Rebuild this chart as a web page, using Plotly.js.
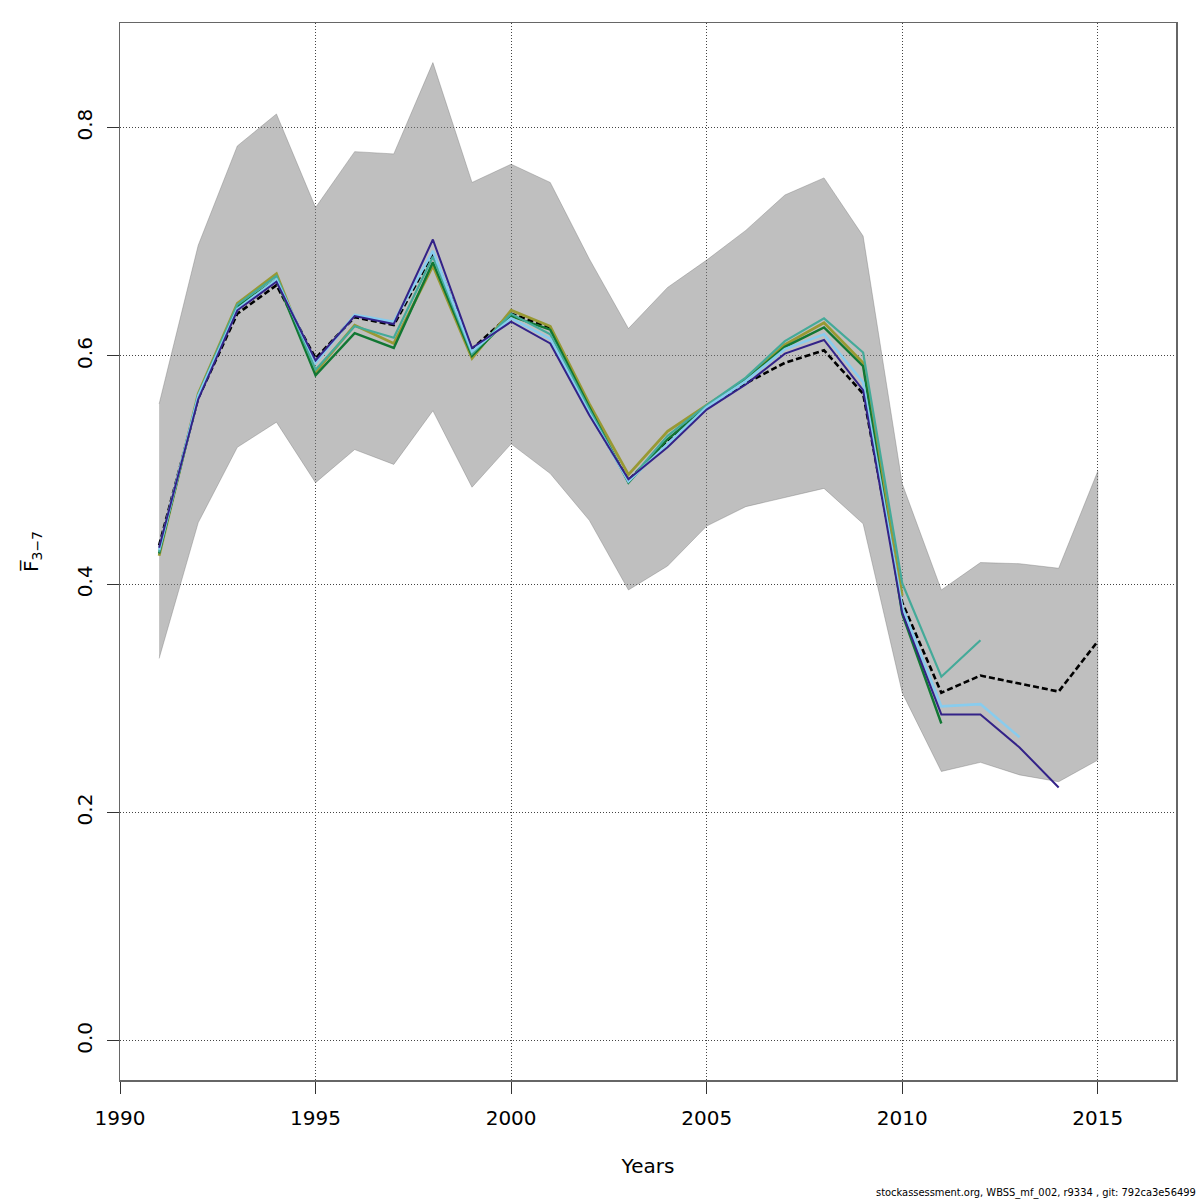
<!DOCTYPE html>
<html>
<head>
<meta charset="utf-8">
<script src="https://cdn.plot.ly/plotly-3.0.1.min.js"></script>
<style>html,body{margin:0;padding:0;background:#fff;}#chart{width:1200px;height:1200px;}</style>
</head>
<body>
<div id="chart"></div>
<script>
const years = [1991,1992,1993,1994,1995,1996,1997,1998,1999,2000,2001,2002,2003,2004,2005,2006,2007,2008,2009,2010,2011,2012,2013,2014,2015];
const upper = [0.558,0.697,0.784,0.812,0.730,0.779,0.777,0.857,0.752,0.768,0.752,0.685,0.624,0.660,0.684,0.710,0.741,0.756,0.705,0.488,0.395,0.419,0.418,0.414,0.499];
const lower = [0.335,0.454,0.520,0.542,0.489,0.518,0.505,0.552,0.485,0.523,0.497,0.456,0.395,0.416,0.451,0.468,0.476,0.484,0.453,0.305,0.236,0.244,0.233,0.227,0.246];
const estimate = [0.434,0.563,0.637,0.662,0.598,0.634,0.627,0.690,0.606,0.637,0.625,0.550,0.491,0.526,0.556,0.576,0.594,0.605,0.567,0.384,0.305,0.320,0.313,0.306,0.350];
const peel1 = [0.432,0.562,0.640,0.665,0.596,0.635,0.628,0.702,0.607,0.630,0.611,0.548,0.492,0.520,0.553,0.575,0.602,0.614,0.570,0.375,0.286,0.286,0.257,0.222];
const peel2 = [0.430,0.565,0.641,0.667,0.594,0.636,0.630,0.692,0.604,0.633,0.615,0.550,0.490,0.523,0.555,0.578,0.606,0.619,0.577,0.380,0.293,0.295,0.266];
const peel3 = [0.428,0.566,0.645,0.670,0.588,0.626,0.616,0.687,0.602,0.637,0.619,0.553,0.490,0.530,0.557,0.581,0.613,0.633,0.603,0.401,0.319,0.351];
const peel4 = [0.427,0.565,0.643,0.667,0.583,0.620,0.607,0.682,0.600,0.635,0.623,0.555,0.489,0.527,0.555,0.579,0.608,0.625,0.591,0.374,0.278];
const peel5 = [0.425,0.567,0.646,0.672,0.586,0.627,0.611,0.679,0.598,0.640,0.626,0.558,0.496,0.534,0.557,0.579,0.610,0.629,0.594,0.390];
const peelColors = ['#332288','#88CCEE','#44AA99','#117733','#999933'];
const xTicks = [1990,1995,2000,2005,2010,2015];
const yTicks = [0.0,0.2,0.4,0.6,0.8];

const bandX = years.concat(years.slice().reverse());
const bandY = upper.concat(lower.slice().reverse());

const traces = [];
traces.push({x: bandX, y: bandY, type:'scatter', mode:'lines', fill:'toself',
  fillcolor:'rgba(128,128,128,0.5)', line:{color:'rgba(110,110,110,0.6)', width:0.6},
  hoverinfo:'skip', showlegend:false});
traces.push({x: years, y: estimate, type:'scatter', mode:'lines',
  line:{color:'#000000', width:2.6, dash:'6px,3px'}, showlegend:false});
const peels = [peel1, peel2, peel3, peel4, peel5];
const peelWidths = [2, 2.6, 2.2, 2.4, 2.8];
for (let i = peels.length - 1; i >= 0; i--) {
  traces.push({x: years.slice(0, peels[i].length), y: peels[i], type:'scatter', mode:'lines',
    line:{color: peelColors[i], width: peelWidths[i]}, showlegend:false});
}

const tf = {family:'DejaVu Sans, sans-serif', size:20, color:'#000'};
const layout = {
  width:1200, height:1200,
  paper_bgcolor:'#fff', plot_bgcolor:'#fff',
  margin:{l:120, r:24, t:23, b:120, autoexpand:false},
  font: tf,
  showlegend:false,
  xaxis:{range:[1990,2017], tickvals:xTicks, ticktext:xTicks.map(String), ticks:'outside', ticklen:12,
    tickcolor:'#333', tickwidth:1, showline:true, linecolor:'#666', linewidth:1.5, mirror:true,
    showgrid:true, gridcolor:'#444', griddash:'1px,2px', gridwidth:1, zeroline:false,
    ticklabelstandoff:7, tickfont:tf,
    title:{text:'Years', font:tf, standoff:30}, automargin:false},
  yaxis:{range:[-0.0343,0.8917], tickvals:yTicks, ticktext:yTicks.map(v=>v.toFixed(1)), ticks:'outside', ticklen:12,
    tickcolor:'#333', tickwidth:1, showline:true, linecolor:'#666', linewidth:1.5, mirror:true,
    showgrid:true, gridcolor:'#444', griddash:'1px,2px', gridwidth:1, zeroline:false, tickangle:-90,
    ticklabelstandoff:7, tickfont:tf,
    title:{text:'F\u0305<sub>3\u22127</sub>', font:tf, standoff:28}, automargin:false},
  annotations:[{xref:'paper', yref:'paper', x:1.0, y:-0.106, xanchor:'right', yanchor:'middle',
    text:'stockassessment.org, WBSS_mf_002, r9334 , git: 792ca3e56499', showarrow:false,
    font:{family:'DejaVu Sans Condensed, DejaVu Sans, sans-serif', size:11, color:'#000'}, xshift:22}]
};
Plotly.newPlot('chart', traces, layout, {staticPlot:true});
</script>
</body>
</html>
